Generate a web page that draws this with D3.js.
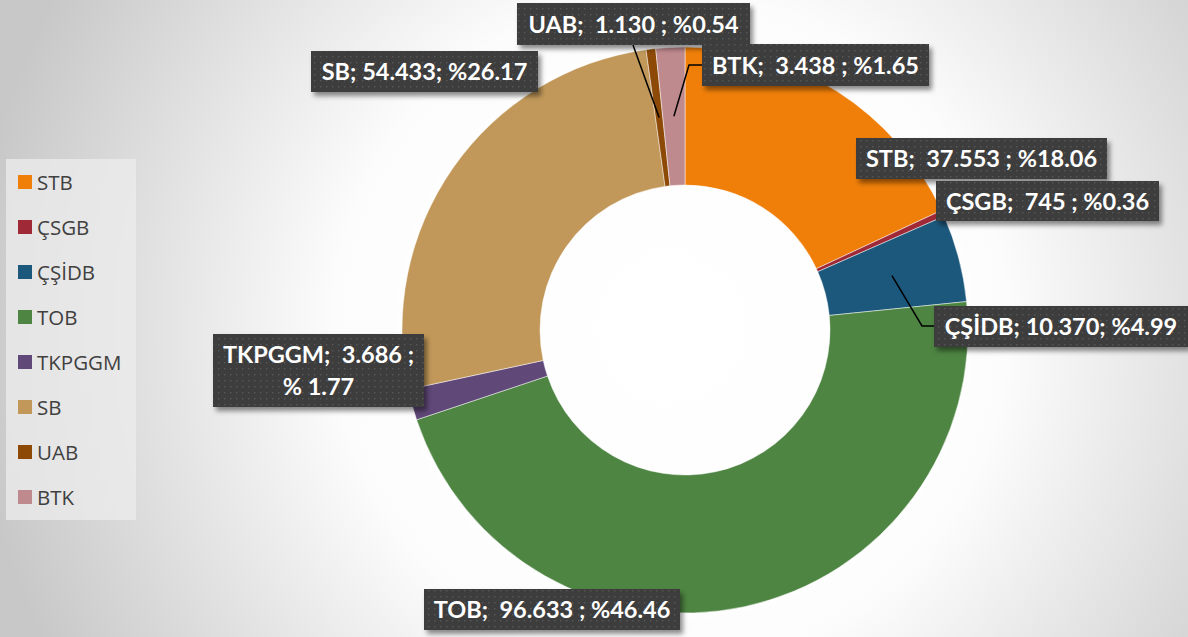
<!DOCTYPE html>
<html>
<head>
<meta charset="utf-8">
<script src="https://cdn.jsdelivr.net/npm/d3@7"></script>
<style>
  html, body { margin: 0; padding: 0; background: #fff; }
  svg { display: block; }
  text { white-space: pre; }
</style>
</head>
<body>
<svg id="chart" width="1188" height="637"></svg>
<script>
// ---- data ----
const categories = ["STB", "ÇSGB", "ÇŞİDB", "TOB", "TKPGGM", "SB", "UAB", "BTK"];
const values = [37553, 745, 10370, 96633, 3686, 54433, 1130, 3438];
const colors = ["#F07F09", "#9F2936", "#1B587C", "#4E8542", "#604878", "#C19859", "#8D4A06", "#BF8A8E"];
const labelLines = [
  ["STB;  37.553 ; %18.06"],
  ["ÇSGB;  745 ; %0.36"],
  ["ÇŞİDB; 10.370; %4.99"],
  ["TOB;  96.633 ; %46.46"],
  ["TKPGGM;  3.686 ;", "% 1.77"],
  ["SB; 54.433; %26.17"],
  ["UAB;  1.130 ; %0.54"],
  ["BTK;  3.438 ; %1.65"]
];

// ---- layout ----
const W = 1188, H = 637;
const cx = 685, cy = 330, R = 283, r0 = 145;
// label boxes [x, y, w, h]
const boxes = [
  [856, 138, 251, 41],
  [936, 181, 223, 40],
  [934, 306, 254, 41],
  [424, 589, 256, 41],
  [213, 334, 211, 73],
  [311, 51, 227, 41],
  [517, 3, 233, 42],
  [702, 44, 227, 42]
];
// leader elbow points (null = no leader)
const leaders = [null, null, [[922, 326], [934, 326]], null, null, null, [[633, 45]], [[689, 65], [702, 65]]];

const svg = d3.select("#chart");
const defs = svg.append("defs");

// background radial gradient
const bg = defs.append("radialGradient").attr("id", "bg")
  .attr("gradientUnits", "userSpaceOnUse")
  .attr("cx", 670).attr("cy", 330).attr("r", 700);
bg.append("stop").attr("offset", "0").attr("stop-color", "#ffffff");
bg.append("stop").attr("offset", "0.48").attr("stop-color", "#fcfcfc");
bg.append("stop").attr("offset", "1").attr("stop-color", "#c8c8c8");

// dotted dark pattern for label boxes
const pat = defs.append("pattern").attr("id", "dots")
  .attr("patternUnits", "userSpaceOnUse").attr("width", 6).attr("height", 6);
pat.append("rect").attr("width", 6).attr("height", 6).attr("fill", "#3d3d3d");
pat.append("rect").attr("x", 2).attr("y", 2).attr("width", 1.4).attr("height", 1.4).attr("fill", "#575757");

// drop shadow
const sh = defs.append("filter").attr("id", "shadow")
  .attr("x", "-10%").attr("y", "-20%").attr("width", "130%").attr("height", "160%");
sh.append("feDropShadow").attr("dx", 3).attr("dy", 4).attr("stdDeviation", 2.5)
  .attr("flood-color", "#000").attr("flood-opacity", 0.45);

// glow
const gl = defs.append("filter").attr("id", "glow")
  .attr("x", "-20%").attr("y", "-20%").attr("width", "140%").attr("height", "140%");
gl.append("feGaussianBlur").attr("stdDeviation", 7);

svg.append("rect").attr("width", W).attr("height", H).attr("fill", "url(#bg)");

// legend
const legend = svg.append("g");
legend.append("rect").attr("x", 6).attr("y", 159).attr("width", 130).attr("height", 361)
  .attr("fill", "#ececec").attr("fill-opacity", 0.75);
const ly = d3.scalePoint().domain(categories).range([182, 497]);
const li = legend.selectAll("g.item").data(categories).enter().append("g").attr("class", "item");
li.append("rect").attr("x", 18).attr("y", d => ly(d) - 7).attr("width", 14).attr("height", 14)
  .attr("fill", (d, i) => colors[i]);
li.append("text").attr("x", 37).attr("y", d => ly(d) + 7.5)
  .attr("font-family", "'Open Sans', sans-serif").attr("font-size", 20.5)
  .attr("fill", "#404040").text(d => d);

// donut
const g = svg.append("g").attr("transform", `translate(${cx},${cy})`);
g.append("circle").attr("r", R + 4).attr("fill", "#ffffff").attr("opacity", 0.9).attr("filter", "url(#glow)");

const pie = d3.pie().sort(null).value(d => d)(values);
const arc = d3.arc().innerRadius(r0).outerRadius(R);
g.selectAll("path.slice").data(pie).enter().append("path").attr("class", "slice")
  .attr("d", arc).attr("fill", (d, i) => colors[i])
  .attr("stroke", "#ffffff").attr("stroke-opacity", 0.6).attr("stroke-width", 0.8);

// leaders
const line = d3.line();
pie.forEach((d, i) => {
  if (!leaders[i]) return;
  const c = arc.centroid(d);
  const pts = [[cx + c[0], cy + c[1]], ...leaders[i]];
  svg.append("path").attr("d", line(pts)).attr("fill", "none")
    .attr("stroke", "#000").attr("stroke-width", 1.5);
});

// labels
const lab = svg.selectAll("g.lab").data(categories).enter().append("g").attr("class", "lab");
lab.append("rect")
  .attr("x", (d, i) => boxes[i][0]).attr("y", (d, i) => boxes[i][1])
  .attr("width", (d, i) => boxes[i][2]).attr("height", (d, i) => boxes[i][3])
  .attr("fill", "url(#dots)").attr("filter", "url(#shadow)");
lab.each(function (d, i) {
  const b = boxes[i], lines = labelLines[i];
  const lh = 32;
  const y0 = b[1] + b[3] / 2 - (lines.length - 1) * lh / 2 + 8.5;
  lines.forEach((t, k) => {
    d3.select(this).append("text")
      .attr("x", b[0] + b[2] / 2).attr("y", y0 + k * lh)
      .attr("text-anchor", "middle")
      .attr("font-family", "Lato, 'Open Sans', sans-serif").attr("font-weight", "bold")
      .attr("font-size", 23.5).attr("fill", "#ffffff").text(t);
  });
});
</script>
</body>
</html>
